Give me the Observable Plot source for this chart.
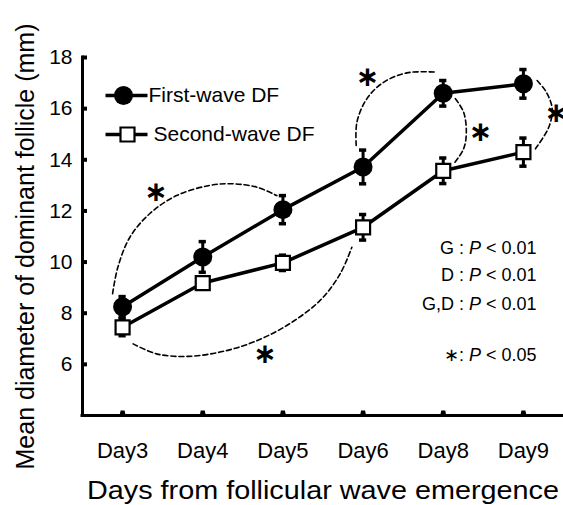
<!DOCTYPE html>
<html>
<head>
<meta charset="utf-8">
<script src="https://cdn.jsdelivr.net/npm/d3@7"></script>
<script src="https://cdn.jsdelivr.net/npm/@observablehq/plot@0.6"></script>
<style>
  html, body { margin: 0; padding: 0; background: white; }
</style>
</head>
<body>
<div id="chart"></div>
<script>
// ---- data ----
const days = ["Day3", "Day4", "Day5", "Day6", "Day8", "Day9"];
const seriesNames = ["First-wave DF", "Second-wave DF"];
const firstMean = [8.25, 10.2, 12.05, 13.72, 16.6, 16.97];
const firstErr  = [0.4, 0.6, 0.55, 0.66, 0.5, 0.56];
const secondMean = [7.45, 9.18, 9.97, 11.36, 13.57, 14.3];
const secondErr  = [0.33, 0.2, 0.3, 0.5, 0.5, 0.55];
const yTicks = [6, 8, 10, 12, 14, 16, 18];
const yDomain = [4, 18];
const statLines = ["G : P < 0.01", "D : P < 0.01", "G,D : P < 0.01", "\u2217: P < 0.05"];
const statY = [10.53, 9.47, 8.34, 6.35];
const xTitle = "Days from follicular wave emergence";
const yTitle = "Mean diameter of dominant follicle (mm)";

// significance annotations (day index, mm)
const arcUpper = [[-0.125, 8.76], [-0.059, 9.80], [0.091, 10.97], [0.341, 11.90], [0.674, 12.60], [1.090, 13.00], [1.381, 13.06], [1.674, 12.93], [1.924, 12.60]];
const arcLower = [[0.132, 6.80], [0.425, 6.41], [0.799, 6.31], [1.215, 6.48], [1.631, 6.87], [2.048, 7.52], [2.464, 8.50], [2.714, 9.54], [2.860, 10.58]];
const arcDay6 = [[2.914, 14.56], [2.923, 15.47], [3.048, 16.39], [3.255, 17.03], [3.547, 17.40], [3.901, 17.43]];
const arcDay8 = [[4.151, 16.39], [4.254, 15.86], [4.288, 15.08], [4.254, 14.43], [4.129, 13.84]];
const arcDay9 = [[5.171, 17.10], [5.287, 16.64], [5.359, 15.99], [5.316, 15.27], [5.150, 14.43]];
const starX = [0.416, 1.777, 3.055, 4.463, 5.41];
const starY = [12.73, 6.41, 17.23, 15.08, 15.84];

// ---- tables built from arrays ----
const first = days.map((d, i) => ({i, day: d, m: firstMean[i], e: firstErr[i]}));
const second = days.map((d, i) => ({i, day: d, m: secondMean[i], e: secondErr[i]}));
const arcs = [arcUpper, arcLower, arcDay6, arcDay8, arcDay9]
  .flatMap((pts, k) => pts.map(([x, y]) => ({k, x, y})));
const stars = starX.map((x, i) => ({x, y: starY[i]}));
const stats = statLines.map((t, i) => ({t, y: statY[i]}));

const font = "'Liberation Sans', Arial, Helvetica, sans-serif";
const capW = 0.045;

const lineSym = {draw(ctx) { ctx.moveTo(-21, 0); ctx.lineTo(21, 0); }};
const xTickSym = {draw(ctx) { ctx.moveTo(-3, 0); ctx.lineTo(-2, -5); ctx.lineTo(2, -5); ctx.lineTo(3, 0); ctx.closePath(); }};
const yTickSym = {draw(ctx) { ctx.rect(0, -2, 4.5, 4); }};

function errMarks(data) {
  return [
    Plot.ruleX(data, {x: "i", y1: d => d.m - d.e, y2: d => d.m + d.e, stroke: "black", strokeWidth: 3}),
    Plot.ruleY(data, {x1: d => d.i - capW, x2: d => d.i + capW, y: d => d.m + d.e, stroke: "black", strokeWidth: 3.5}),
    Plot.ruleY(data, {x1: d => d.i - capW, x2: d => d.i + capW, y: d => d.m - d.e, stroke: "black", strokeWidth: 3.5})
  ];
}

const plot = Plot.plot({
  width: 563,
  height: 505,
  marginLeft: 82,
  marginRight: 0,
  marginTop: 57,
  marginBottom: 90,
  style: {fontFamily: font, background: "white", color: "black"},
  x: {type: "linear", domain: [-0.5, 5.5]},
  y: {type: "linear", domain: yDomain},
  marks: [
    // dashed significance loops
    Plot.line(arcs, {x: "x", y: "y", z: "k", curve: "catmull-rom", stroke: "black", strokeWidth: 1.6, strokeDasharray: "5,3"}),
    Plot.text(stars, {x: "x", y: "y", text: () => "\u2217", fontSize: 28, fontWeight: "bold", fontFamily: "'DejaVu Sans'", fill: "#000", stroke: "none"}),
    // axes
    Plot.ruleX([-0.5], {stroke: "black", strokeWidth: 3, strokeLinecap: "square"}),
    Plot.ruleY([yDomain[0]], {stroke: "black", strokeWidth: 3, strokeLinecap: "square"}),
    Plot.dot(days.map((d, i) => i), {x: d => d, y: () => yDomain[0], symbol: xTickSym, fill: "black", stroke: "none"}),
    Plot.dot(yTicks, {x: () => -0.5, y: d => d, symbol: yTickSym, fill: "black", stroke: "none"}),
    Plot.axisY({ticks: yTicks, tickSize: 0, tickPadding: 10, fontSize: 21, label: null}),
    Plot.axisX({ticks: days.map((d, i) => i), tickFormat: i => days[i], tickSize: 0, tickPadding: 27, fontSize: 22, label: null}),
    Plot.text([yTitle], {frameAnchor: "left", textAnchor: "middle", lineAnchor: "middle", rotate: -90, dx: -57, dy: 10, fontSize: 25, fill: "black"}),
    Plot.text([xTitle], {frameAnchor: "bottom", textAnchor: "middle", lineAnchor: "middle", dy: 75, fontSize: 26, fill: "black"}),
    // series lines
    Plot.line(first, {x: "i", y: "m", stroke: "black", strokeWidth: 3.5}),
    Plot.line(second, {x: "i", y: "m", stroke: "black", strokeWidth: 3.5}),
    ...errMarks(first),
    ...errMarks(second),
    Plot.dot(first, {x: "i", y: "m", symbol: "circle", r: 9.5, fill: "black", stroke: "none"}),
    Plot.dot(second, {x: "i", y: "m", symbol: "square", r: 7.9, fill: "white", stroke: "black", strokeWidth: 2.2}),
    // legend
    Plot.dot([0], {frameAnchor: "top-left", dx: 44, dy: 38, symbol: lineSym, stroke: "black", strokeWidth: 3.5, fill: "none"}),
    Plot.dot([0], {frameAnchor: "top-left", dx: 41, dy: 38, symbol: "circle", r: 9.5, fill: "black", stroke: "none"}),
    Plot.text([seriesNames[0]], {frameAnchor: "top-left", dx: 66, dy: 38, textAnchor: "start", lineAnchor: "middle", fontSize: 21, fill: "black"}),
    Plot.dot([0], {frameAnchor: "top-left", dx: 44, dy: 77, symbol: lineSym, stroke: "black", strokeWidth: 3.5, fill: "none"}),
    Plot.dot([0], {frameAnchor: "top-left", dx: 45, dy: 77, symbol: "square", r: 7.9, fill: "white", stroke: "black", strokeWidth: 2.2}),
    Plot.text([seriesNames[1]], {frameAnchor: "top-left", dx: 71, dy: 77, textAnchor: "start", lineAnchor: "middle", fontSize: 21, fill: "black"}),
    // statistics
    Plot.text(stats, {y: "y", text: "t", frameAnchor: "right", dx: -27, textAnchor: "end", fontSize: 18, fill: "black"})
  ]
});

// italic P in the statistics lines
d3.select(plot).selectAll("text").filter(function() { return /P < 0\.0/.test(this.textContent); })
  .each(function() {
    const t = this.textContent;
    const k = t.indexOf("P");
    const sel = d3.select(this);
    sel.text(null);
    sel.append("tspan").text(t.slice(0, k));
    sel.append("tspan").attr("font-style", "italic").text("P");
    sel.append("tspan").text(t.slice(k + 1));
  });

// stretch the x title to the reference width
d3.select(plot).selectAll("text").filter(function() { return this.textContent === xTitle; })
  .attr("textLength", 472).attr("lengthAdjust", "spacingAndGlyphs");

document.getElementById("chart").appendChild(plot);
</script>
</body>
</html>
